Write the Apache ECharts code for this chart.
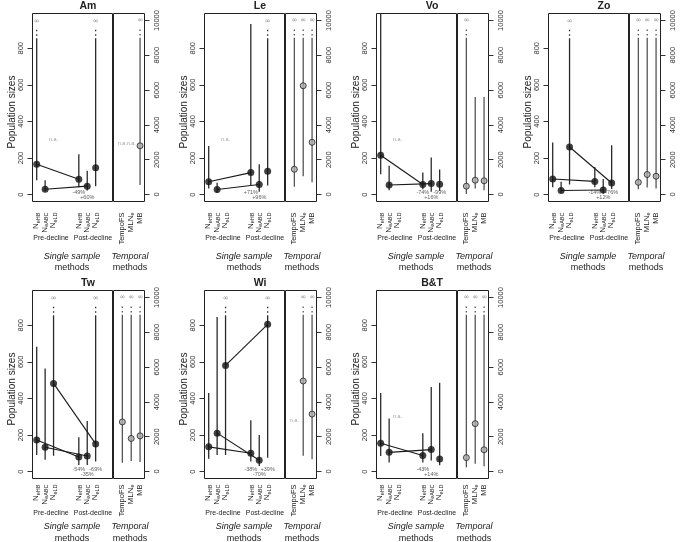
<!DOCTYPE html>
<html><head><meta charset="utf-8">
<script src="https://cdn.jsdelivr.net/npm/echarts@6/dist/echarts.min.js"></script>
<style>html,body{margin:0;padding:0;background:#fff}#c{width:685px;height:542px}</style>
</head><body><div id="c"></div>
<script>
// ---------------- DATA ----------------
const panelNames = ['Am','Le','Vo','Zo','Tw','Wi','B&T'];
const singleLabels = ['eHB','eABC','eLD'];
const temporalLabels = ['TempoFS','MLN|e','MB'];
const prePos = [1,2,3];
const postPos = [6,7,8];
const tempPos = [1,2,3];
const leftTicks = [0,200,400,600,800];
const rightTicks = [0,2000,4000,6000,8000,10000];
const INF = Infinity;
// single-sample methods [HB, ABC, LD] per panel; null = n.a.
const preEst  = [[166,29,null],[70,28,null],[215,52,null],[85,22,260],[173,133,482],[135,210,580],[155,105,null]];
const preLow  = [[78,18,null],[33,8,null],[111,24,null],[40,10,55],[91,64,87],[70,90,90],[85,50,null]];
const preHigh = [[INF,78,null],[265,65,null],[1200,157,null],[285,70,INF],[682,564,INF],[430,845,INF],[430,290,null]];
const postEst  = [[84,46,146],[120,55,128],[55,60,57],[72,25,63],[80,85,151],[100,62,805],[88,120,68]];
const postLow  = [[40,22,45],[50,15,50],[29,15,20],[40,5,30],[36,36,55],[55,30,75],[50,60,35]];
const postHigh = [[221,130,INF],[933,166,INF],[121,203,137],[150,85,270],[187,276,INF],[280,200,INF],[210,462,485]];
const changeLabels = [['-49%','+60%',null],['+71%','+96%',null],['-74%','+16%','-99%'],['-14%','+12%','-76%'],['-54%','-35%','-69%'],['-38%','-70%','+39%'],['-43%','+14%',null]];
// temporal methods [TempoFS, MLNe, MB]
const tempEst  = [[null,null,2800],[1450,6250,3000],[480,825,790],[700,1150,1050],[2850,1900,2050],[null,5200,3300],[800,2750,1250]];
const tempLow  = [[null,null,550],[450,1050,700],[30,345,250],[300,400,350],[500,600,550],[null,900,700],[250,450,300]];
const tempHigh = [[null,null,INF],[INF,INF,INF],[INF,5600,5600],[INF,INF,INF],[INF,INF,INF],[null,INF,INF],[INF,INF,INF]];

// ---------------- LAYOUT / STYLE ----------------
const FONT = 'Liberation Sans, Arial, sans-serif';
const COL_X = [0,172,344,516], ROW_Y = [0,277];
const FL = 32.5, FD = 112.5, FR = 144.5, FT = 13.5, FB = 201.5;
const L_MIN = -38, L_MAX = 990, R_MIN = -400, R_MAX = 10400;
const INF_L = {solid:855, d0:868, d1:910, sym:950};
const INF_R = {solid:9000, d0:9130, d1:9550, sym:10000};
const NA_L = 300, NA_R = 2950, PCT_UP = 12, PCT_DN = -18;
const rowLabelMargin = [11,6], rowPre = [37,35], rowSingle = [55,48], rowMethods = [66,60];

function barRenderer(inf, axisMax, color) {
  return function (params, api) {
    const x = api.value(0), lo = api.value(1), hi = api.value(2), isInf = api.value(3);
    const top = isInf ? inf.solid : Math.min(hi, axisMax);
    const p0 = api.coord([x, lo]), p1 = api.coord([x, top]);
    const ch = [{type:'line', shape:{x1:p0[0], y1:p0[1], x2:p1[0], y2:p1[1]}, style:{stroke:color, lineWidth:1.3}}];
    if (isInf) {
      const a = api.coord([x, inf.d0]), b = api.coord([x, inf.d1]), s = api.coord([x, inf.sym]);
      ch.push({type:'line', shape:{x1:a[0], y1:a[1], x2:b[0], y2:b[1]}, style:{stroke:color, lineWidth:1.3, lineDash:[1.5,3]}});
      ch.push({type:'text', style:{text:'\u221E', x:s[0], y:s[1], fill:'#888', font:'7px DejaVu Sans', align:'center', verticalAlign:'middle'}});
    }
    return {type:'group', children:ch};
  };
}

const richSub = {
  n:{fontSize:8, fontFamily:FONT, fill:'#222', color:'#222', lineHeight:9, verticalAlign:'top'},
  s:{fontSize:5.5, fontFamily:FONT, fill:'#222', color:'#222', lineHeight:5, verticalAlign:'bottom'},
  t:{fontSize:7.5, fontFamily:FONT, fill:'#222', color:'#222', lineHeight:9}
};
function subLabel(txt){
  const k = txt.indexOf('|');
  if (k < 0) return '{t|' + txt + '}';
  return '{n|' + txt.slice(0,k) + '}{s|' + txt.slice(k+1) + '}';
}
// method labels under an x axis, placed through the axis scale
function labelRenderer(yMin, margin) {
  return function (params, api) {
    const c = api.coord([api.value(0), yMin]);
    const text = params.context && false ? '' : api.value(1);
    return {type:'text', x:c[0], y:c[1] + margin, rotation:Math.PI/2,
      style:{text: labelTexts[params.seriesName][params.dataIndex], rich:richSub, align:'right', verticalAlign:'middle'}};
  };
}
const labelTexts = {};

const grids = [], xAxes = [], yAxes = [], series = [], graphics = [];

panelNames.forEach((name, p) => {
  const col = p % 4, row = Math.floor(p / 4);
  const ox = COL_X[col], oy = ROW_Y[row];
  const gL = grids.length, gR = gL + 1;
  const gridBase = {top: oy+FT, height: FB-FT, show:true, borderColor:'#222', borderWidth:1, backgroundColor:'rgba(0,0,0,0)'};
  grids.push(Object.assign({left: ox+FL, width: FD-FL}, gridBase));
  grids.push(Object.assign({left: ox+FD+1, width: FR-FD-1}, gridBase));
  const noLines = {axisLine:{show:false, onZero:false}, splitLine:{show:false}, axisTick:{show:false}, axisLabel:{show:false}};
  xAxes.push(Object.assign({gridIndex:gL, type:'value', min:0.5, max:10}, noLines));
  xAxes.push(Object.assign({gridIndex:gR, type:'value', min:0, max:3.5}, noLines));
  const tickStyle = {show:true, length:5, lineStyle:{color:'#333', width:1}};
  const yl = {show:true, rotate:90, margin:8, fontSize:7.5, fontFamily:FONT, color:'#333', formatter: v => String(v), showMinLabel:true, showMaxLabel:true};
  const yBase = {axisLine:{show:false, onZero:false}, splitLine:{show:false}};
  yAxes.push(Object.assign({gridIndex:gL, type:'value', position:'left', min:L_MIN, max:L_MAX,
    axisTick:Object.assign({customValues:leftTicks}, tickStyle),
    axisLabel:Object.assign({customValues:leftTicks}, yl)}, yBase));
  yAxes.push(Object.assign({gridIndex:gR, type:'value', position:'right', min:R_MIN, max:R_MAX,
    axisTick:Object.assign({customValues:rightTicks}, tickStyle),
    axisLabel:Object.assign({customValues:rightTicks}, yl)}, yBase));

  // ---- method labels ----
  const lnL = 'labL' + p, lnR = 'labR' + p;
  labelTexts[lnL] = prePos.concat(postPos).map((v, k) => subLabel('N|' + singleLabels[k % 3]));
  labelTexts[lnR] = tempPos.map((v, k) => subLabel(temporalLabels[k]));
  series.push({type:'custom', name:lnL, xAxisIndex:gL, yAxisIndex:gL, clip:false, silent:true,
    renderItem: labelRenderer(L_MIN, rowLabelMargin[row]), data: prePos.concat(postPos).map(v => [v, 0])});
  series.push({type:'custom', name:lnR, xAxisIndex:gR, yAxisIndex:gR, clip:false, silent:true,
    renderItem: labelRenderer(R_MIN, rowLabelMargin[row]), data: tempPos.map(v => [v, 0])});

  // ---- single sample plot ----
  const bars = [], pts = [], txt = [];
  [[prePos, preEst, preLow, preHigh], [postPos, postEst, postLow, postHigh]].forEach(([pos, est, lo, hi]) => {
    for (let i = 0; i < 3; i++) {
      if (est[p][i] == null) { txt.push([pos[i], NA_L, 'n.a.']); continue; }
      const h = hi[p][i];
      bars.push([pos[i], lo[p][i], isFinite(h) ? h : 0, isFinite(h) ? 0 : 1]);
      pts.push([pos[i], est[p][i]]);
    }
  });
  const pct = [];
  for (let i = 0; i < 3; i++) {
    if (changeLabels[p][i]) pct.push([postPos[i], i === 1 ? PCT_DN : PCT_UP, changeLabels[p][i]]);
  }
  series.push({type:'custom', xAxisIndex:gL, yAxisIndex:gL, renderItem: barRenderer(INF_L, L_MAX, '#2a2a2a'), data:bars, silent:true, clip:true});
  for (let i = 0; i < 3; i++) {
    if (preEst[p][i] != null && postEst[p][i] != null) {
      series.push({type:'line', xAxisIndex:gL, yAxisIndex:gL, data:[[prePos[i], preEst[p][i]], [postPos[i], postEst[p][i]]],
        symbol:'none', lineStyle:{color:'#1a1a1a', width:1.1}, silent:true});
    }
  }
  series.push({type:'scatter', xAxisIndex:gL, yAxisIndex:gL, data:pts, symbol:'circle', symbolSize:7, itemStyle:{color:'#111'}, silent:true});
  series.push({type:'scatter', xAxisIndex:gL, yAxisIndex:gL, data:txt, symbolSize:0, silent:true,
    label:{show:true, position:'inside', formatter: q => q.value[2], fontSize:5.5, fontFamily:FONT, color:'#888'}});
  series.push({type:'scatter', xAxisIndex:gL, yAxisIndex:gL, data:pct, symbolSize:0, silent:true,
    label:{show:true, position:'inside', formatter: q => q.value[2], fontSize:5.5, fontFamily:FONT, color:'#333'}});

  // ---- temporal plot ----
  const tb = [], tp = [], tt = [];
  for (let i = 0; i < 3; i++) {
    if (tempEst[p][i] == null) { tt.push([tempPos[i], NA_R, 'n.a.']); continue; }
    const h = tempHigh[p][i];
    tb.push([tempPos[i], tempLow[p][i], isFinite(h) ? h : 0, isFinite(h) ? 0 : 1]);
    tp.push([tempPos[i], tempEst[p][i]]);
  }
  series.push({type:'custom', xAxisIndex:gR, yAxisIndex:gR, renderItem: barRenderer(INF_R, R_MAX, '#555'), data:tb, silent:true, clip:true});
  series.push({type:'scatter', xAxisIndex:gR, yAxisIndex:gR, data:tp, symbol:'circle', symbolSize:6,
    itemStyle:{color:'#aaa', borderColor:'#222', borderWidth:1}, silent:true});
  series.push({type:'scatter', xAxisIndex:gR, yAxisIndex:gR, data:tt, symbolSize:0, silent:true,
    label:{show:true, position:'inside', formatter: q => q.value[2], fontSize:5.5, fontFamily:FONT, color:'#888'}});

  // ---- texts ----
  const base = oy + FB;
  const T = (x, y, text, font, extra) => graphics.push(Object.assign({type:'text', x, y, silent:true,
    style:{text, font, fill:'#222', align:'center', verticalAlign:'middle'}}, extra || {}));
  T(ox+88, oy+6, name, 'bold 10.5px ' + FONT);
  T(ox+12, oy+112, 'Population sizes', '10px ' + FONT, {rotation: Math.PI/2});
  T(ox+51, base+rowPre[row], 'Pre-decline', '7px ' + FONT);
  T(ox+93, base+rowPre[row], 'Post-decline', '7px ' + FONT);
  T(ox+72, base+rowSingle[row], 'Single sample', 'italic 9px ' + FONT);
  T(ox+72, base+rowMethods[row], 'methods', '9px ' + FONT);
  T(ox+130, base+rowSingle[row], 'Temporal', 'italic 9px ' + FONT);
  T(ox+130, base+rowMethods[row], 'methods', '9px ' + FONT);
});

const chart = echarts.init(document.getElementById('c'), null, {renderer:'canvas'});
chart.setOption({animation:false, backgroundColor:'#fff', grid:grids, xAxis:xAxes, yAxis:yAxes, series, graphic:graphics});
</script>
</body></html>
